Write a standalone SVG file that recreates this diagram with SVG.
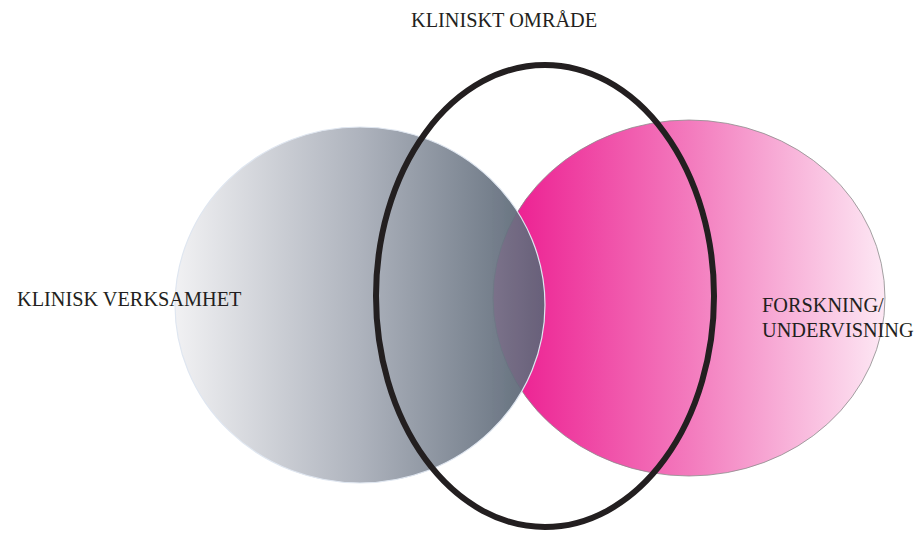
<svg xmlns="http://www.w3.org/2000/svg" width="917" height="533" viewBox="0 0 917 533">
<defs>
<linearGradient id="gGray" gradientUnits="userSpaceOnUse" x1="175" y1="0" x2="545" y2="0">
<stop offset="0" stop-color="#f1f1f3"/>
<stop offset="0.5" stop-color="#aeb3bd"/>
<stop offset="1" stop-color="#5f6b79"/>
</linearGradient>
<linearGradient id="gPink" gradientUnits="userSpaceOnUse" x1="493" y1="0" x2="885" y2="0">
<stop offset="0" stop-color="#ec168d"/>
<stop offset="0.5" stop-color="#f37abd"/>
<stop offset="1" stop-color="#fde8f4"/>
</linearGradient>
<clipPath id="clipGray"><ellipse cx="360" cy="305" rx="185" ry="178"/></clipPath>
<style>
text{font-family:"Liberation Serif","Times New Roman",serif;font-size:20.3px;fill:#231f20;}
</style>
</defs>
<g id="forskning">
<ellipse cx="689" cy="298" rx="196" ry="178" fill="url(#gPink)" stroke="#8c8c8c" stroke-width="0.8"/>
<text x="762" y="312">FORSKNING/</text>
<text x="762" y="337">UNDERVISNING</text>
</g>
<g id="klinisk-verksamhet">
<ellipse cx="360" cy="305" rx="185" ry="178" fill="url(#gGray)"/>
<ellipse cx="689" cy="298" rx="196" ry="178" fill="#a0187e" opacity="0.13" clip-path="url(#clipGray)" stroke="#4a4f60" stroke-width="1"/>
<ellipse cx="360" cy="305" rx="185" ry="178" fill="none" stroke="#dfe6f0" stroke-width="1.2"/>
<text x="17" y="306">KLINISK VERKSAMHET</text>
</g>
<g id="kliniskt-omrade">
<ellipse cx="545" cy="296" rx="169" ry="231" fill="none" stroke="#231f20" stroke-width="6"/>
<text x="411" y="27">KLINISKT OMRÅDE</text>
</g>
<g id="connectors"/>
</svg>
